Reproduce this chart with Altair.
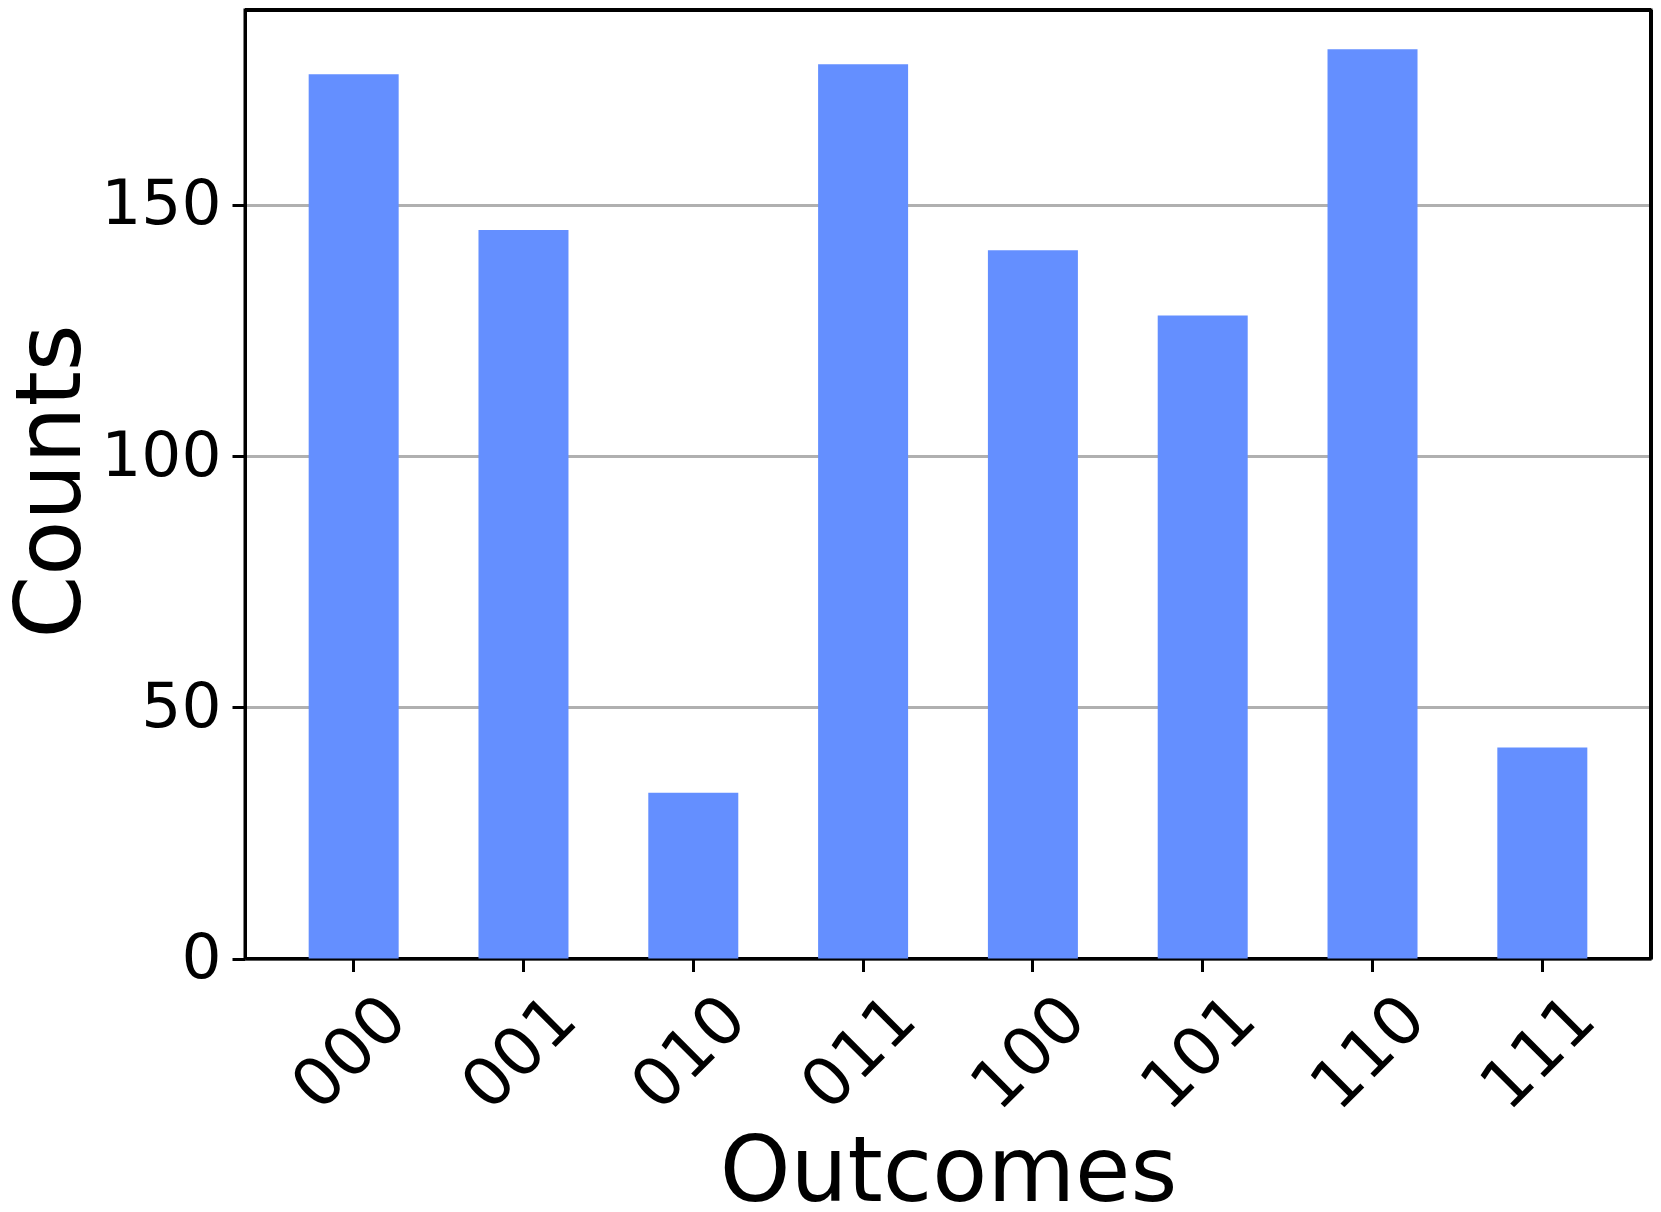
import altair as alt
import pandas as pd

outcomes = ["000", "001", "010", "011", "100", "101", "110", "111"]
counts = [176, 145, 33, 178, 141, 128, 181, 42]
y_ticks = [0, 50, 100, 150]

df = pd.DataFrame({"Outcomes": outcomes, "Counts": counts})

FONT = "DejaVu Sans"
W = 1406
H = 948.5

bars = alt.Chart(df).mark_bar(color="#648fff").encode(
    x=alt.X(
        "Outcomes:N",
        sort=outcomes,
        scale=alt.Scale(paddingInner=0.47, paddingOuter=0.375),
        axis=alt.Axis(
            title="Outcomes",
            labelAngle=-45,
            labelAlign="center",
            labelBaseline="middle",
            labelPadding=82,
            labelOffset=-3,
            labelOverlap=False,
            labelBound=False,
            labelFontSize=67,
            labelFont=FONT,
            labelColor="black",
            tickSize=13,
            tickWidth=3,
            tickColor="black",
            domain=True,
            domainColor="black",
            domainWidth=3,
            grid=False,
            titleFont=FONT,
            titleFontSize=90,
            titleFontWeight="normal",
            titleColor="black",
            titleBaseline="alphabetic",
            titleY=242,
            titleX=W / 2,
            titleAlign="center",
        ),
    ),
    y=alt.Y(
        "Counts:Q",
        scale=alt.Scale(domain=[0, 188.8], nice=False, zero=True),
        axis=alt.Axis(
            title="Counts",
            values=y_ticks,
            labelFontSize=63,
            labelFont=FONT,
            labelColor="black",
            labelPadding=11,
            tickSize=13,
            tickWidth=3,
            tickColor="black",
            domain=True,
            domainColor="black",
            domainWidth=3,
            grid=True,
            gridColor="#b0b0b0",
            gridWidth=3,
            titleFont=FONT,
            titleFontSize=90,
            titleFontWeight="normal",
            titleColor="black",
            titleBaseline="alphabetic",
            titleAngle=270,
            titleX=-166,
            titleY=471,
            titleAlign="center",
        ),
    ),
)

top_frame = alt.Chart(df).mark_rule(color="black", strokeWidth=3).encode(
    x=alt.value(0), x2=alt.value(W), y=alt.value(0)
)
right_frame = alt.Chart(df).mark_rule(color="black", strokeWidth=3).encode(
    x=alt.value(W), y=alt.value(0), y2=alt.value(H)
)

chart = alt.layer(bars, top_frame, right_frame).properties(
    width=W,
    height=H,
    background="white",
    autosize=alt.AutoSizeParams(type="none"),
    padding={"left": 237, "top": 2, "right": 2, "bottom": 245.5},
).configure_view(
    stroke="black",
    strokeWidth=3,
)

chart.save("out.html", embed_options={"renderer": "svg", "actions": False})
